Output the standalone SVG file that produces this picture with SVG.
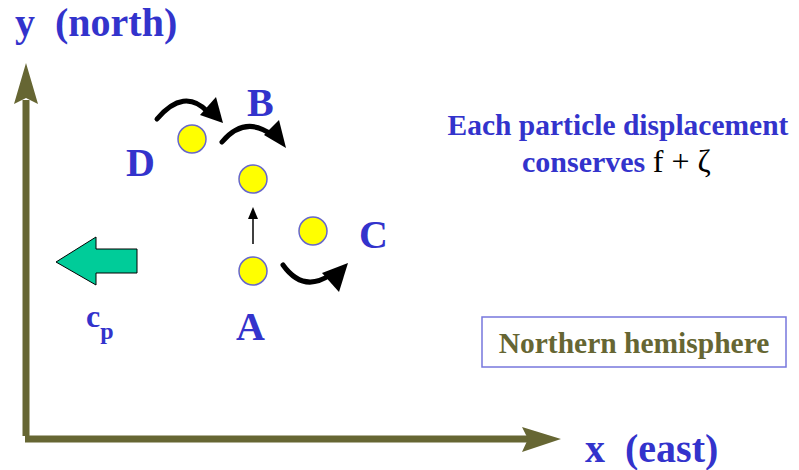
<svg xmlns="http://www.w3.org/2000/svg" width="799" height="470" viewBox="0 0 799 470">
<style>
.lbl{font-family:"Liberation Serif","Times New Roman",serif;font-weight:bold;fill:#3333cc}
.big{font-size:40px}
.axis{stroke:#666633;stroke-width:7;fill:none}
.axhead{fill:#666633}
.pt{fill:#ffff00;stroke:#6666cc;stroke-width:1.5}
.curve{stroke:#000;stroke-width:5;fill:none;stroke-linecap:round}
</style>
<rect width="799" height="470" fill="#ffffff"/>
<g id="axes">
<line class="axis" x1="26" y1="100" x2="26" y2="436"/>
<line class="axis" x1="25" y1="439" x2="528" y2="439"/>
<polygon class="axhead" points="26,63 38,104 26,98 14,104"/>
<polygon class="axhead" points="561,439 522,427 528,439 522,452"/>
<text class="lbl big" x="15" y="36" xml:space="preserve">y  (north)</text>
<text class="lbl big" x="585" y="462" xml:space="preserve">x  (east)</text>
</g>
<g id="connectors">
<path class="curve" d="M157,119 Q184,87 208,112"/>
<polygon points="216,97 223,123 200,115" fill="#000"/>
<path class="curve" d="M222,142 Q245,115 272,135"/>
<polygon points="279,120 286,148 264,135" fill="#000"/>
<path class="curve" d="M283,265 Q303,293 330,275"/>
<polygon points="348,263 339,292 322,273" fill="#000"/>
<line x1="253" y1="244" x2="253" y2="216" stroke="#000" stroke-width="1.5"/>
<polygon points="253,207 248,219 258,219" fill="#000"/>
</g>
<g id="nodeD">
<circle class="pt" cx="192" cy="139" r="14"/>
<text class="lbl big" x="126" y="176">D</text>
</g>
<g id="nodeB">
<circle class="pt" cx="253" cy="179" r="14"/>
<text class="lbl big" x="247" y="116">B</text>
</g>
<g id="nodeC">
<circle class="pt" cx="313" cy="231" r="14"/>
<text class="lbl big" x="359" y="248">C</text>
</g>
<g id="nodeA">
<circle class="pt" cx="253" cy="271" r="14"/>
<text class="lbl big" x="236" y="340">A</text>
</g>
<g id="phase">
<polygon points="56,262 96,237 96,249 137,249 137,273 96,273 96,285" fill="#00cc99" stroke="#000" stroke-width="1"/>
<text class="lbl" x="86" y="327" font-size="32">c<tspan font-size="24" dy="12">p</tspan></text>
</g>
<g id="note">
<text class="lbl" x="618" y="135" font-size="29.5" text-anchor="middle">Each particle displacement</text>
<text class="lbl" x="522" y="172" font-size="30">conserves <tspan font-weight="normal" fill="#000" font-size="32">f + ζ</tspan></text>
</g>
<g id="hemisphere">
<rect x="482" y="317" width="304" height="50" fill="none" stroke="#7777dd" stroke-width="1.5"/>
<text class="lbl" x="634" y="353" font-size="29.5" text-anchor="middle" style="fill:#666633">Northern hemisphere</text>
</g>
</svg>
